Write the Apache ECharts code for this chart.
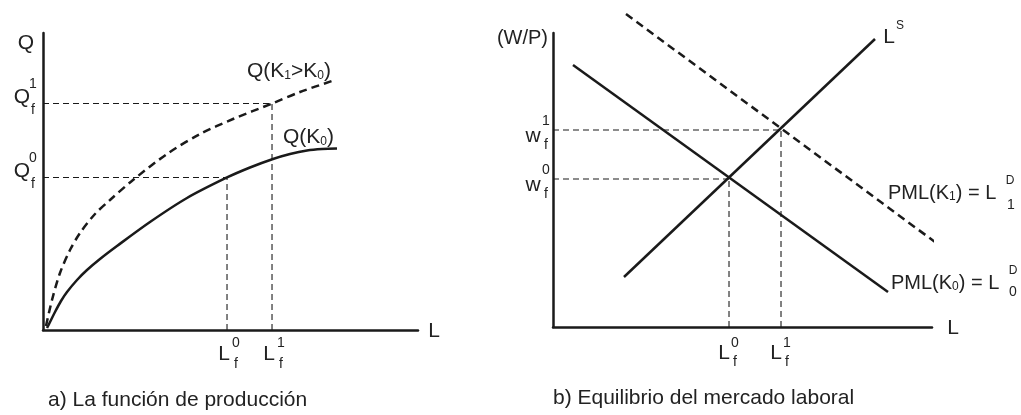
<!DOCTYPE html>
<html>
<head>
<meta charset="utf-8">
<script src="https://cdn.jsdelivr.net/npm/echarts@6/dist/echarts.min.js"></script>
<style>
html, body { margin: 0; background: #fff; }
#main { width: 1021px; height: 415px; }
</style>
</head>
<body>
<div id="main"></div>
<script>
// a) funcion de produccion (unidades arbitrarias 0-100)
var prodHighK = [[0.8,1.35],[2.4,10.1],[4.53,19.19],[7.2,26.94],[9.87,32.66],[13.87,39.06],[17.87,43.77],[24,50.51],
    [33.07,59.26],[41.87,65.99],[50.67,71.04],[61.07,76.26],[68.53,80.13],[77.87,84.18]];
var prodLowK = [[1.07,0.67],[1.87,2.69],[3.2,6.06],[4.8,9.76],[6.4,12.79],[9.07,16.84],[11.73,20.2],[15.2,23.91],
    [19.73,28.28],[28.53,36.36],[38.4,44.44],[49.07,51.35],[55.2,54.71],[61.33,57.58],[65.87,59.26],[70.4,60.44],
    [74.4,60.94],[78.4,61.11]];
var prodL = [49.07, 61.07];   // L0f, L1f
var prodQ = [51.35, 76.26];   // Q0f, Q1f

// b) mercado laboral
var laborSupply = [[18.73,17.01],[84.96,97.96]];
var demandK0 = [[5.28,89.12],[88.39,11.9]];
var demandK1 = [[19.26,106.46],[100.79,28.91]];
var eqL = [46.44, 60.16];     // L0f, L1f
var eqW = [50.34, 67.01];     // w0f, w1f

var tickSup = ['0', '1'];
var INK = '#1a1a1a';
var TXT = '#222';
var FONT = '"Liberation Sans", Arial, sans-serif';

function guides(L, V, grid) {
    var out = [];
    for (var i = 0; i < L.length; i++) {
        out.push(guide([[0, V[i]], [L[i], V[i]]], grid));
        out.push(guide([[L[i], 0], [L[i], V[i]]], grid));
    }
    return out;
}
function guide(data, grid) {
    return {
        type: 'line', xAxisIndex: grid, yAxisIndex: grid, data: data, symbol: 'none', silent: true,
        lineStyle: {color: INK, width: 1.1, type: [6, 4]}, z: 1
    };
}
function curve(data, grid, dashed, smooth) {
    return {
        type: 'line', xAxisIndex: grid, yAxisIndex: grid, data: data, symbol: 'none', silent: true,
        smooth: smooth, clip: false,
        lineStyle: {color: INK, width: 2.5, type: dashed ? [8, 5] : 'solid'}, z: 3
    };
}
function axis(grid) {
    return {
        type: 'value', gridIndex: grid, min: 0, max: 100,
        axisLine: {show: true, onZero: false, lineStyle: {color: INK, width: 2.5}},
        axisTick: {show: false}, axisLabel: {show: false}, splitLine: {show: false}
    };
}

var option = {
    animation: false,
    backgroundColor: '#fff',
    grid: [
        {left: 43, top: 33, width: 375, height: 297},
        {left: 553, top: 33, width: 379, height: 294}
    ],
    xAxis: [axis(0), axis(1)],
    yAxis: [axis(0), axis(1)],
    series: [
        curve(prodHighK, 0, true, 0.3),
        curve(prodLowK, 0, false, 0.3),
        curve(laborSupply, 1, false, false),
        curve(demandK0, 1, false, false),
        curve(demandK1, 1, true, false)
    ].concat(guides(prodL, prodQ, 0), guides(eqL, eqW, 1))
};

var chart = echarts.init(document.getElementById('main'));
chart.setOption(option);

// etiquetas
var g = [];
function txt(x, y, s, size, align) {
    g.push({
        type: 'text', x: x, y: y, silent: true,
        style: {text: s, fontSize: size, fontFamily: FONT, fill: TXT, align: align || 'center', verticalAlign: 'middle',
            rich: {s: {fontSize: 12, fontFamily: FONT, fill: TXT, verticalAlign: 'bottom'}}}
    });
}
function px(grid, x, y) { return chart.convertToPixel({gridIndex: grid}, [x, y]); }

// panel a
var o0 = px(0, 0, 0);
txt(o0[0] - 17, o0[1] - 287, 'Q', 21);
for (var i = 0; i < 2; i++) {
    var p = px(0, prodL[i], prodQ[i]);
    txt(o0[0] - 21, p[1] - 6, 'Q', 21);
    txt(o0[0] - 10, p[1] - 19, tickSup[i], 14);
    txt(o0[0] - 10, p[1] + 7, 'f', 14);
    txt(p[0] - 3, o0[1] + 24, 'L', 21);
    txt(p[0] + 9, o0[1] + 13, tickSup[i], 14);
    txt(p[0] + 9, o0[1] + 34, 'f', 14);
}
txt(o0[0] + 391, o0[1] + 1, 'L', 21);
txt(247, 71, 'Q(K{s|1}>K{s|0})', 21, 'left');
txt(283, 137, 'Q(K{s|0})', 21, 'left');
txt(48, 400, 'a) La función de producción', 21, 'left');

// panel b
var o1 = px(1, 0, 0);
txt(o1[0] - 5, 38, '(W/P)', 20, 'right');
for (var j = 0; j < 2; j++) {
    var q = px(1, eqL[j], eqW[j]);
    txt(o1[0] - 20, q[1] + 6, 'w', 21);
    txt(o1[0] - 7, q[1] - 9, tickSup[j], 14);
    txt(o1[0] - 7, q[1] + 15, 'f', 14);
    txt(q[0] - 5, o1[1] + 26, 'L', 21);
    txt(q[0] + 6, o1[1] + 16, tickSup[j], 14);
    txt(q[0] + 6, o1[1] + 35, 'f', 14);
}
txt(o1[0] + 400, o1[1] + 1, 'L', 21);
txt(889, 37, 'L', 21);
txt(900, 26, 'S', 12);
txt(888, 193, 'PML(K{s|1}) = L', 20, 'left');
txt(1010, 181, 'D', 12);
txt(1011, 205, '1', 14);
txt(891, 283, 'PML(K{s|0}) = L', 20, 'left');
txt(1013, 271, 'D', 12);
txt(1013, 292, '0', 14);
txt(553, 398, 'b) Equilibrio del mercado laboral', 21, 'left');

chart.setOption({graphic: {elements: g}});
</script>
</body>
</html>
